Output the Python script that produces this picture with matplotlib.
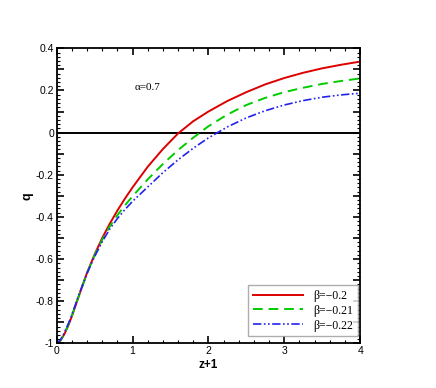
import numpy as np
import matplotlib
matplotlib.use("Agg")
import matplotlib.pyplot as plt
from matplotlib.ticker import MultipleLocator, FuncFormatter

plt.rcParams['font.family'] = 'Liberation Sans'
plt.rcParams['axes.unicode_minus'] = False

# --- data ---
z1 = [0.0, 0.05, 0.1, 0.15, 0.2, 0.3, 0.4, 0.5, 0.6, 0.7, 0.8, 0.9, 1.0, 1.2, 1.4,
      1.6, 1.8, 2.0, 2.25, 2.5, 2.75, 3.0, 3.25, 3.5, 3.75, 4.0]
q_b020 = [-1.0, -0.987, -0.957, -0.918, -0.872, -0.767, -0.665, -0.578, -0.5, -0.432,
          -0.37, -0.313, -0.26, -0.162, -0.078, -0.004, 0.054, 0.10, 0.15, 0.192,
          0.229, 0.259, 0.284, 0.305, 0.322, 0.337]
q_b021 = [-1.0, -0.986, -0.955, -0.915, -0.869, -0.766, -0.667, -0.582, -0.508, -0.445,
          -0.392, -0.345, -0.302, -0.222, -0.149, -0.083, -0.024, 0.03, 0.086, 0.131,
          0.165, 0.192, 0.213, 0.231, 0.245, 0.257]
q_b022 = [-1.0, -0.984, -0.95, -0.91, -0.864, -0.762, -0.668, -0.588, -0.518, -0.457,
          -0.408, -0.365, -0.326, -0.258, -0.19, -0.129, -0.074, -0.025, 0.027, 0.07,
          0.104, 0.131, 0.152, 0.168, 0.179, 0.187]
labels = ["β=−0.2", "β=−0.21", "β=−0.22"]
alpha_text = "α=0.7"

fig = plt.figure(figsize=(4.36, 3.88), dpi=100)
ax = fig.add_axes([0.130, 0.115, 0.696, 0.7605])

ax.axhline(0, color="black", lw=1.4, zorder=1)
ax.plot(z1, q_b020, '-', color="#dd0000", lw=1.4, label=labels[0])
ax.plot(z1, q_b021, color="#00cc00", lw=1.4, dashes=(5, 3), label=labels[1])
ax.plot(z1, q_b022, color="#2222ee", lw=1.2, dashes=(5, 1.5, 1, 1.5, 1, 1.5), label=labels[2])

ax.set_xlim(0, 4)
ax.set_ylim(-1, 0.4)
ax.xaxis.set_major_locator(MultipleLocator(1))
ax.xaxis.set_minor_locator(MultipleLocator(0.2))
ax.yaxis.set_major_locator(MultipleLocator(0.1))
ax.yaxis.set_minor_locator(MultipleLocator(0.02))


def ylab(v, pos):
    k = round(v * 10)
    if k % 2:
        return ""
    return "%g" % (k / 10)


ax.yaxis.set_major_formatter(FuncFormatter(ylab))
ax.tick_params(which='both', direction='in', top=True, right=True, labelsize=7.5, pad=2)
ax.tick_params(which='major', length=5, width=1.2)
ax.tick_params(which='minor', length=2.5, width=0.8)
for s in ax.spines.values():
    s.set_linewidth(1.3)

ax.set_xlabel("z+1", fontsize=8.5, fontweight='bold', labelpad=2)
ax.set_ylabel("q", fontsize=9, fontweight='bold', labelpad=2)

ax.text(1.03, 0.212, alpha_text, fontsize=8, family='Liberation Serif', va='center')

leg = ax.legend(loc='lower right', bbox_to_anchor=(0.993, 0.024),
                prop={'family': 'Liberation Serif', 'size': 8.5},
                frameon=True, fancybox=False, edgecolor="#999999", handlelength=4.2,
                borderaxespad=0, labelspacing=0.25, handletextpad=0.9, borderpad=0.4)
leg.get_frame().set_linewidth(1.0)

fig.savefig("out.png", dpi=100)
